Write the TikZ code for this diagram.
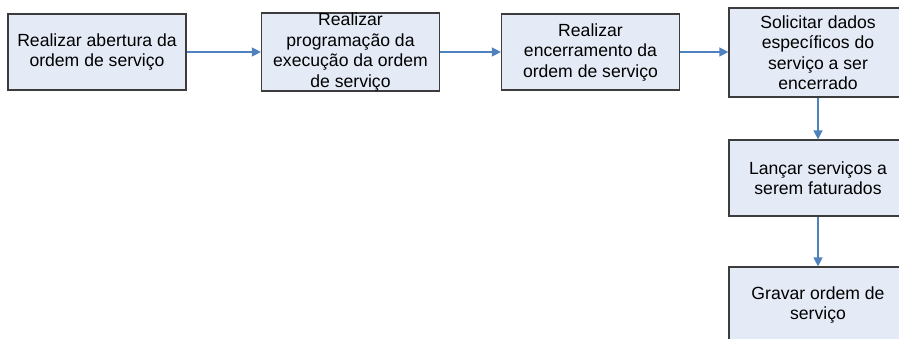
\documentclass[tikz,border=0pt]{standalone}
\usepackage{fontspec}
\setmainfont{Liberation Sans}
\usetikzlibrary{arrows.meta}
\definecolor{boxfill}{HTML}{E5EBF6}
\definecolor{boxline}{HTML}{3C3C3C}
\definecolor{flowblue}{HTML}{4F81BD}
\begin{document}
\begin{tikzpicture}[x=1pt,y=-1pt,line width=1.2pt,>={Triangle[length=9pt,width=9pt]},font=\fontsize{17.6}{20.5}\selectfont,
	etapa/.style={draw=boxline,fill=boxfill,minimum width=178pt,minimum height=76pt,align=center,inner sep=0pt},
	fluxo/.style={->,flowblue,line width=1.3pt}]
	\useasboundingbox (0,0) rectangle (899,339);
	\clip (0,0) rectangle (899,339);
	\node[etapa] (abertura) at (97,52) {Realizar abertura da\\ordem de serviço};
	\node[etapa] (programacao) at (350.5,52) {Realizar\\programação da\\execução da ordem\\de serviço};
	\node[etapa] (encerramento) at (590.5,52) {Realizar\\encerramento da\\ordem de serviço};
	\node[etapa,minimum height=89pt] (dados) at (818,52.5) {Solicitar dados\\específicos do\\serviço a ser\\encerrado};
	\node[etapa] (lancar) at (818,178) {Lançar serviços a\\serem faturados};
	\node[etapa] (gravar) at (818,305) {Gravar ordem de\\serviço};
	\draw[fluxo] (abertura) -- (programacao);
	\draw[fluxo] (programacao) -- (encerramento);
	\draw[fluxo] (encerramento) -- (encerramento-|dados.west);
	\draw[fluxo] (dados) -- (lancar);
	\draw[fluxo] (lancar) -- (gravar);
\end{tikzpicture}
\end{document}
